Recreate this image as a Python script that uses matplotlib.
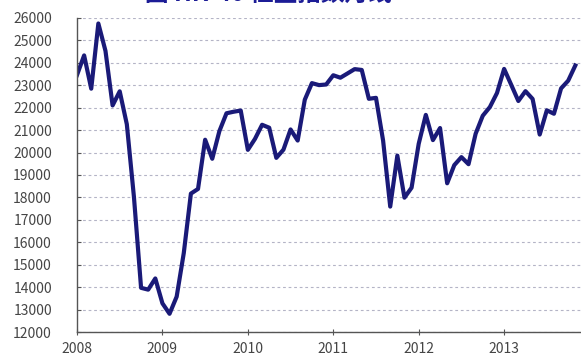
import matplotlib.pyplot as plt

plt.rcParams['font.family'] = ['Noto Sans CJK SC', 'DejaVu Sans']

# 恒生指数月度收盘 2008-01 ~ 2013-11
annees = ["2008", "2009", "2010", "2011", "2012", "2013"]
cloture = [
    23456, 24332, 22849, 25755, 24533, 22102, 22731, 21261, 18016, 13969, 13888, 14387,
    13278, 12812, 13576, 15521, 18171, 18379, 20573, 19724, 20955, 21752, 21821, 21873,
    20122, 20609, 21239, 21108, 19765, 20129, 21030, 20536, 22358, 23096, 23008, 23035,
    23447, 23338, 23528, 23721, 23684, 22398, 22440, 20534, 17592, 19864, 17989, 18434,
    20390, 21680, 20556, 21094, 18630, 19441, 19797, 19482, 20840, 21642, 22030, 22657,
    23730, 23020, 22300, 22737, 22392, 20803, 21884, 21731, 22860, 23206, 23882,
]
titre = "图 HK-40 恒生指数月线"

fig = plt.figure(figsize=(5.81, 3.55), dpi=100)
ax = fig.add_axes([77 / 581, 23 / 355, 504 / 581, 314 / 355])

mois = list(range(len(cloture)))
ax.plot(mois, cloture, color="#1a1a78", linewidth=3.0, solid_joinstyle="round")

ax.set_ylim(12000, 26000)
ax.set_xlim(0, 70.8)
ax.set_yticks(range(12000, 26001, 1000))
ax.set_xticks([12 * i for i in range(len(annees))])
ax.set_xticklabels(annees)

ax.grid(axis="y", linestyle=(0, (2.5, 2.5)), color="#b4b4c6", linewidth=0.8)
ax.set_axisbelow(True)

for cote in ["top", "right"]:
    ax.spines[cote].set_visible(False)
for cote in ["left", "bottom"]:
    ax.spines[cote].set_color("#555555")
    ax.spines[cote].set_linewidth(1.0)

ax.tick_params(axis="y", direction="in", length=3, pad=18, labelsize=10,
               labelcolor="#454545", color="#555555")
ax.tick_params(axis="x", direction="inout", length=5, pad=5, labelsize=10,
               labelcolor="#454545", color="#555555")

# titre coupé en haut de la figure
fig.text(0.462, 0.982, titre, ha="center", va="bottom", fontsize=17,
         fontweight="bold", color="#1c1c96")

fig.savefig("out.png", dpi=100)
